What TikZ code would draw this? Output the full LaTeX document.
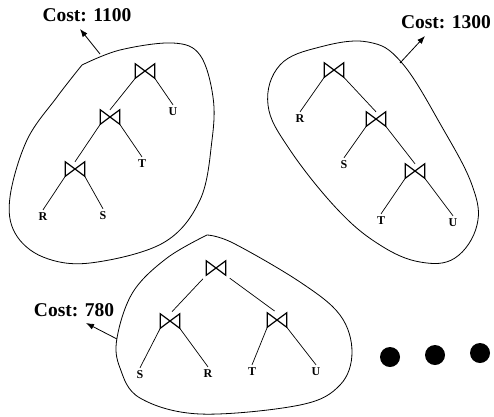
\documentclass[tikz,border=0pt]{standalone}
\usepackage{fontspec}
\setmainfont{Liberation Serif}
\usetikzlibrary{arrows.meta}
\tikzset{
  blob/.style={draw, line width=0.8pt},
  jn/.style={minimum width=19pt, minimum height=14pt, inner sep=0pt},
  leaf/.style={font=\bfseries\fontsize{12}{12}\selectfont, inner sep=3pt},
  cost/.style={font=\bfseries\fontsize{19.5}{19.5}\selectfont, inner sep=0pt},
  edge/.style={line width=0.7pt},
  costarrow/.style={line width=0.8pt, -{Latex[length=8pt,width=6pt]}},
  dot/.style={circle, fill=black, minimum size=20pt, inner sep=0pt}
}
\newcommand{\btie}[1]{\draw[line width=1.2pt, line join=miter] (#1.north west) -- (#1.south east) -- (#1.north east) -- (#1.south west) -- cycle;}
\begin{document}
\begin{tikzpicture}[x=1pt,y=-1pt]
\useasboundingbox (0,0) rectangle (494,416);
% ---------- left blob ----------
\draw[blob] plot[smooth, tension=0.6] coordinates {
 (82,65) (120,50) (173,43) (200,55) (213,97) (212,140) (200,200) (163,243)
 (90,263) (43,257) (15,233) (10,197) (27,140) (57,97) (82,65)};
\node[jn] (a1) at (145,71) {}; \btie{a1}
\node[jn] (a2) at (110,117) {}; \btie{a2}
\node[jn] (a3) at (75,169) {}; \btie{a3}
\node[leaf] (aU) at (173,112) {U};
\node[leaf] (aT) at (142,164) {T};
\node[leaf] (aR) at (43,217) {R};
\node[leaf] (aS) at (103,216) {S};
\draw[edge] (a1.south west) -- (a2.north);
\draw[edge] (a1.south east) -- (aU.north);
\draw[edge] (a2.south west) -- (a3.north);
\draw[edge] (a2.south east) -- (aT.north);
\draw[edge] (a3.south west) -- (aR.north);
\draw[edge] (a3.south east) -- (aS.north);
\node[cost] (costa) at (87,15) {Cost: 1100};
\coordinate (pa) at (100,54);
\coordinate (ta) at (80,29);
\draw[costarrow] (pa) -- (ta);
% ---------- right blob ----------
\draw[blob] plot[smooth cycle, tension=0.65] coordinates {
 (368,42) (402,63) (442,127) (472,185) (477,225) (455,258) (420,262)
 (380,245) (338,210) (290,150) (268,105) (280,65) (320,47)};
\node[jn] (b1) at (334,70) {}; \btie{b1}
\node[jn] (b2) at (376,119) {}; \btie{b2}
\node[jn] (b3) at (415,171) {}; \btie{b3}
\node[leaf] (bR) at (300,119) {R};
\node[leaf] (bS) at (344,165) {S};
\node[leaf] (bT) at (381,221) {T};
\node[leaf] (bU) at (453,223) {U};
\draw[edge] (b1.south west) -- (bR.north);
\draw[edge] (b1.south east) -- (b2.north);
\draw[edge] (b2.south west) -- (bS.north);
\draw[edge] (b2.south east) -- (b3.north);
\draw[edge] (b3.south west) -- (bT.north);
\draw[edge] (b3.south east) -- (bU.north);
\node[cost] (costb) at (446,22) {Cost: 1300};
\coordinate (pb) at (400,63);
\coordinate (tb) at (425,36);
\draw[costarrow] (pb) -- (tb);
% ---------- bottom blob ----------
\draw[blob] plot[smooth, tension=0.6] coordinates {
 (207,235) (233,243) (300,282) (340,315) (352,352) (340,385) (300,405)
 (200,414) (140,398) (120,368) (117,338) (133,292) (167,258) (207,235)};
\node[jn] (c1) at (216,268) {}; \btie{c1}
\node[jn] (c2) at (170,321) {}; \btie{c2}
\node[jn] (c3) at (277,320) {}; \btie{c3}
\node[leaf] (cS) at (140,375) {S};
\node[leaf] (cR) at (208,374) {R};
\node[leaf] (cT) at (252,372) {T};
\node[leaf] (cU) at (316,372) {U};
\draw[edge, shorten <=5pt, shorten >=3pt] (c1.south west) -- (c2.north);
\draw[edge, shorten <=5pt, shorten >=3pt] (c1.south east) -- (c3.north);
\draw[edge] (c2.south west) -- (cS.north);
\draw[edge] (c2.south east) -- (cR.north);
\draw[edge] (c3.south west) -- (cT.north);
\draw[edge] (c3.south east) -- (cU.north);
\node[cost] (costc) at (74,310) {Cost: 780};
\coordinate (pc) at (117,339);
\coordinate (tc) at (86,323);
\draw[costarrow] (pc) -- (tc);
% ---------- dots ----------
\node[dot] (d1) at (390,357) {};
\node[dot] (d2) at (435,355) {};
\node[dot] (d3) at (480,353) {};
\end{tikzpicture}
\end{document}
